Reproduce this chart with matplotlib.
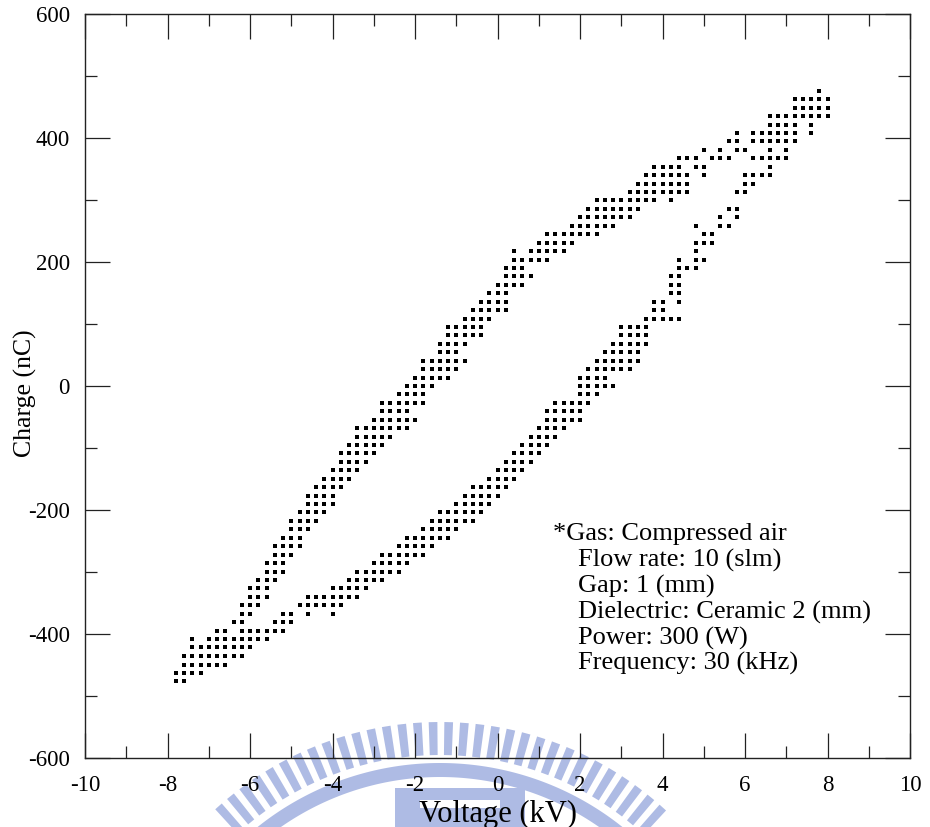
import numpy as np
import matplotlib
matplotlib.use("Agg")
import matplotlib.pyplot as plt
from matplotlib.patches import Polygon, Rectangle
from matplotlib.transforms import Affine2D

plt.rcParams['font.family'] = ['Liberation Serif', 'DejaVu Serif']
plt.rcParams['axes.unicode_minus'] = False

# Resolution of the digitised voltage channel (kV)
V_STEP = 0.2

# Sampled charge levels (nC); each level lists the voltage runs (kV, inclusive)
# where the oscilloscope recorded a sample on that level.
charge_levels = [
    476.0, 462.4, 448.8, 435.2, 421.6, 408.0, 394.4, 380.8, 367.2, 353.6,
    340.0, 326.4, 312.8, 299.2, 285.6, 272.0, 258.4, 244.8, 231.2, 217.6,
    204.0, 190.4, 176.8, 163.2, 149.6, 136.0, 122.4, 108.8, 95.2, 81.6,
    68.0, 54.4, 40.8, 27.2, 13.6, 0.0, -13.6, -27.2, -40.8, -54.4,
    -68.0, -81.6, -95.2, -108.8, -122.4, -136.0, -149.6, -163.2, -176.8, -190.4,
    -204.0, -217.6, -231.2, -244.8, -258.4, -272.0, -285.6, -299.2, -312.8, -326.4,
    -340.0, -353.6, -367.2, -380.8, -394.4, -408.0, -421.6, -435.2, -449.8, -462.4,
    -476.0,
]

voltage_runs = [
    [(7.8, 7.8)],
    [(7.2, 8.0)],
    [(7.2, 8.0)],
    [(6.6, 8.0)],
    [(6.6, 7.2), (7.6, 7.6)],
    [(5.8, 5.8), (6.2, 7.2), (7.6, 7.6)],
    [(5.6, 5.8), (6.2, 7.2)],
    [(5.0, 5.0), (5.4, 5.4), (5.8, 6.0), (6.6, 6.6), (7.0, 7.0)],
    [(4.4, 4.8), (5.2, 5.6), (6.2, 7.0)],
    [(3.8, 4.4), (4.8, 5.0), (6.6, 6.6)],
    [(3.6, 4.6), (5.0, 5.0), (6.0, 6.6)],
    [(3.4, 4.6), (6.0, 6.2)],
    [(3.2, 4.6), (5.8, 6.0)],
    [(2.4, 3.8), (4.2, 4.2)],
    [(2.2, 3.4), (5.6, 5.8)],
    [(2.0, 3.2), (5.4, 5.4), (5.8, 5.8)],
    [(1.8, 2.8), (4.8, 4.8), (5.4, 5.6)],
    [(1.2, 2.4), (5.0, 5.2)],
    [(1.0, 1.8), (4.8, 5.2)],
    [(0.4, 0.4), (0.8, 1.6), (4.8, 4.8)],
    [(0.4, 1.2), (4.4, 4.4), (4.8, 5.0)],
    [(0.2, 0.6), (4.4, 4.8)],
    [(0.2, 0.8), (4.2, 4.4)],
    [(0.0, 0.6), (4.2, 4.4)],
    [(-0.2, 0.2), (4.2, 4.4)],
    [(-0.4, 0.2), (3.8, 4.0), (4.4, 4.4)],
    [(-0.6, 0.2), (3.8, 4.0)],
    [(-0.8, -0.2), (3.6, 4.4)],
    [(-1.2, -0.4), (3.0, 3.6)],
    [(-1.2, -0.4), (3.0, 3.6)],
    [(-1.4, -0.8), (2.8, 3.6)],
    [(-1.4, -1.0), (2.6, 3.4)],
    [(-1.8, -0.8), (2.4, 3.4)],
    [(-1.8, -1.0), (2.2, 3.2)],
    [(-2.0, -1.2), (2.0, 2.6)],
    [(-2.2, -1.6), (2.0, 2.8)],
    [(-2.4, -1.8), (2.0, 2.4)],
    [(-2.8, -1.8), (1.4, 2.2)],
    [(-2.8, -2.2), (1.2, 2.0)],
    [(-3.0, -2.0), (1.2, 2.0)],
    [(-3.4, -2.2), (1.0, 1.6)],
    [(-3.4, -2.6), (0.8, 1.4)],
    [(-3.6, -2.8), (0.6, 1.2)],
    [(-3.8, -3.0), (0.4, 1.0)],
    [(-3.8, -3.2), (0.2, 0.8)],
    [(-4.0, -3.4), (0.0, 0.6)],
    [(-4.2, -3.6), (-0.2, 0.4)],
    [(-4.4, -3.8), (-0.6, 0.2)],
    [(-4.6, -4.0), (-0.8, 0.0)],
    [(-4.6, -4.0), (-1.0, -0.2)],
    [(-4.8, -4.2), (-1.4, -0.4)],
    [(-5.0, -4.4), (-1.6, -0.6)],
    [(-5.0, -4.6), (-1.8, -1.0)],
    [(-5.2, -4.8), (-2.2, -1.2)],
    [(-5.4, -4.8), (-2.4, -1.6)],
    [(-5.4, -5.0), (-2.8, -1.8)],
    [(-5.6, -5.2), (-3.0, -2.2)],
    [(-5.6, -5.2), (-3.4, -2.4)],
    [(-5.8, -5.4), (-3.6, -2.8)],
    [(-6.0, -5.6), (-4.0, -3.2)],
    [(-6.0, -5.6), (-4.6, -3.4)],
    [(-6.2, -5.8), (-4.8, -3.8)],
    [(-6.2, -6.0), (-5.2, -5.0), (-4.6, -4.6), (-4.0, -4.0)],
    [(-6.4, -6.2), (-5.4, -5.0)],
    [(-6.8, -6.6), (-6.2, -5.2)],
    [(-7.4, -7.4), (-7.0, -5.6)],
    [(-7.4, -6.0)],
    [(-7.6, -6.2)],
    [(-7.6, -6.6)],
    [(-7.8, -7.2)],
    [(-7.8, -7.6)],
]

x_ticks = [-10, -8, -6, -4, -2, 0, 2, 4, 6, 8, 10]
y_ticks = [-600, -400, -200, 0, 200, 400, 600]

info_lines = [
    "*Gas: Compressed air",
    "Flow rate: 10 (slm)",
    "Gap: 1 (mm)",
    "Dielectric: Ceramic 2 (mm)",
    "Power: 300 (W)",
    "Frequency: 30 (kHz)",
]

# Expand each run into the individual samples on the voltage grid
volts, charges = [], []
for q, runs in zip(charge_levels, voltage_runs):
    for v0, v1 in runs:
        n = int(round((v1 - v0) / V_STEP)) + 1
        for i in range(n):
            volts.append(v0 + i * V_STEP)
            charges.append(q)

W, H = 930, 827
fig = plt.figure(figsize=(W / 100, H / 100), dpi=100)
fig.patch.set_facecolor('white')

# Pixel-space transform (origin top-left) for the background emblem
px = Affine2D().scale(1, -1).translate(0, H).scale(1 / 100) + fig.dpi_scale_trans
emb = '#aebbe4'
cx, cy = 440, 1055
r_out, r_in = 333, 300
for ang in np.arange(48, 133, 2.7):
    a0, a1 = np.radians(ang - 0.75), np.radians(ang + 0.75)
    pts = [(cx + r_in * np.cos(a0), cy - r_in * np.sin(a0)),
           (cx + r_out * np.cos(a0), cy - r_out * np.sin(a0)),
           (cx + r_out * np.cos(a1), cy - r_out * np.sin(a1)),
           (cx + r_in * np.cos(a1), cy - r_in * np.sin(a1))]
    fig.patches.append(Polygon(pts, closed=True, transform=px, facecolor=emb,
                               edgecolor='none', zorder=-5))
th = np.radians(np.linspace(40, 140, 120))
band_o, band_i = 292, 278
ring = [(cx + band_o * np.cos(t), cy - band_o * np.sin(t)) for t in th] + \
       [(cx + band_i * np.cos(t), cy - band_i * np.sin(t)) for t in th[::-1]]
fig.patches.append(Polygon(ring, closed=True, transform=px, facecolor=emb,
                           edgecolor='none', zorder=-5))
fig.patches.append(Rectangle((395, 788), 130, 40, transform=px, facecolor=emb,
                             edgecolor='none', zorder=-5))
fig.patches.append(Rectangle((420, 800), 80, 8, transform=px, facecolor='white',
                             edgecolor='none', zorder=-5))

ax = fig.add_axes([85 / W, 1 - 758 / H, 825 / W, (758 - 14) / H])
ax.set_facecolor('none')
ax.set_zorder(1)

ax.scatter(volts, charges, marker='s', s=9.5, c='black', linewidths=0, zorder=3)

ax.set_xlim(-10, 10)
ax.set_ylim(-600, 600)
ax.set_xticks(x_ticks)
ax.set_yticks(y_ticks)
ax.set_xticks(np.arange(-10, 11, 1), minor=True)
ax.set_yticks(np.arange(-600, 601, 100), minor=True)
ax.tick_params(which='both', direction='in', top=True, right=True,
               colors='#222222', labelsize=16.5, labelcolor='black')
ax.tick_params(which='major', length=18, width=0.9)
ax.tick_params(which='minor', length=8.5, width=0.9)
ax.tick_params(axis='x', pad=12)
ax.tick_params(axis='y', pad=11)
for s in ax.spines.values():
    s.set_color('#222222')
    s.set_linewidth(1.0)

ax.set_xlabel('Voltage (kV)', fontsize=22)
ax.set_ylabel('Charge (nC)', fontsize=18.5)
ax.xaxis.set_label_coords(0.5, -56 / 744, transform=ax.transAxes)
ax.yaxis.set_label_coords(-60 / 825, 0.49, transform=ax.transAxes)
ax.xaxis.label.set_va('center')
ax.yaxis.label.set_va('center')

line_y = [-238, -281, -323, -365, -407, -447]
for i, (txt, yy) in enumerate(zip(info_lines, line_y)):
    xx = 1.35 if i == 0 else 1.95
    ax.text(xx, yy, txt, fontsize=19, ha='left', va='center', zorder=4)

fig.savefig('out.png', dpi=100)
